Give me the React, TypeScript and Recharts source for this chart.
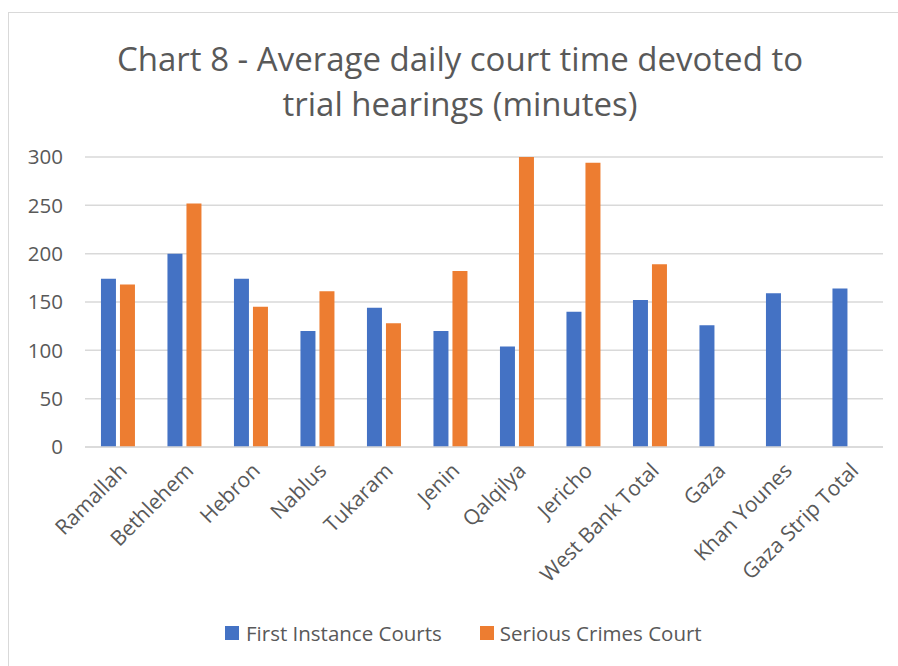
import React from "react";
import { Bar, BarChart, CartesianGrid, XAxis, YAxis } from "recharts";

// categories and values
const courts = [
  "Ramallah",
  "Bethlehem",
  "Hebron",
  "Nablus",
  "Tukaram",
  "Jenin",
  "Qalqilya",
  "Jericho",
  "West Bank Total",
  "Gaza",
  "Khan Younes",
  "Gaza Strip Total",
];
const firstInstance = [174, 200, 174, 120, 144, 120, 104, 140, 152, 126, 159, 164];
const seriousCrimes: (number | null)[] = [168, 252, 145, 161, 128, 182, 300, 294, 189, null, null, null];
const yTicks = [0, 50, 100, 150, 200, 250, 300];

const FONT = "'Open Sans', 'DejaVu Sans', sans-serif";
const TEXT = "#595959";
const BLUE = "#4472C4";
const ORANGE = "#ED7D31";

const data = courts.map((name, i) => ({
  name,
  first: firstInstance[i],
  serious: seriousCrimes[i],
}));

function CourtTick(props: any) {
  const { x, y, payload } = props;
  return (
    <g transform={`translate(${x + 10},${y + 17})`}>
      <text
        transform="rotate(-45)"
        textAnchor="end"
        fill={TEXT}
        fontSize={21}
        fontFamily={FONT}
      >
        {payload.value}
      </text>
    </g>
  );
}

export default function App() {
  return (
    <div
      style={{
        position: "fixed",
        left: 0,
        top: 0,
        width: 898,
        height: 666,
        background: "#fff",
        overflow: "hidden",
        fontFamily: FONT,
      }}
    >
      {/* chart frame, right and bottom edges fall outside the picture */}
      <div
        style={{
          position: "absolute",
          left: 8,
          top: 12,
          width: 920,
          height: 700,
          border: "1.5px solid #d9d9d9",
        }}
      />
      <div
        style={{
          position: "absolute",
          left: 40,
          top: 36,
          width: 840,
          textAlign: "center",
          fontSize: 33,
          lineHeight: "45px",
          color: TEXT,
        }}
      >
        Chart 8 - Average daily court time devoted to
        <br />
        trial hearings (minutes)
      </div>
      <div style={{ position: "absolute", left: 0, top: 0 }}>
        <BarChart
          width={898}
          height={666}
          data={data}
          margin={{ top: 157, right: 15, bottom: 119, left: 0 }}
          barCategoryGap="24%"
          barGap={4}
        >
          <CartesianGrid vertical={false} stroke="#d9d9d9" strokeWidth={1.5} />
          <XAxis
            dataKey="name"
            height={100}
            interval={0}
            tickLine={false}
            axisLine={{ stroke: "#d9d9d9", strokeWidth: 1.5 }}
            tick={<CourtTick />}
          />
          <YAxis
            width={85}
            domain={[0, 300]}
            ticks={yTicks}
            tickLine={false}
            axisLine={false}
            tickSize={0}
            tickMargin={22}
            tick={{ fill: TEXT, fontSize: 20.5, fontFamily: FONT }}
          />
          <Bar dataKey="first" fill={BLUE} isAnimationActive={false} />
          <Bar dataKey="serious" fill={ORANGE} isAnimationActive={false} />
        </BarChart>
      </div>
      <div
        style={{
          position: "absolute",
          top: 619,
          left: 225,
          display: "flex",
          alignItems: "center",
          fontSize: 20.5,
          color: TEXT,
        }}
      >
        <span style={{ width: 14, height: 14, background: BLUE, marginRight: 7 }} />
        <span style={{ marginRight: 38 }}>First Instance Courts</span>
        <span style={{ width: 14, height: 14, background: ORANGE, marginRight: 6 }} />
        <span>Serious Crimes Court</span>
      </div>
    </div>
  );
}
